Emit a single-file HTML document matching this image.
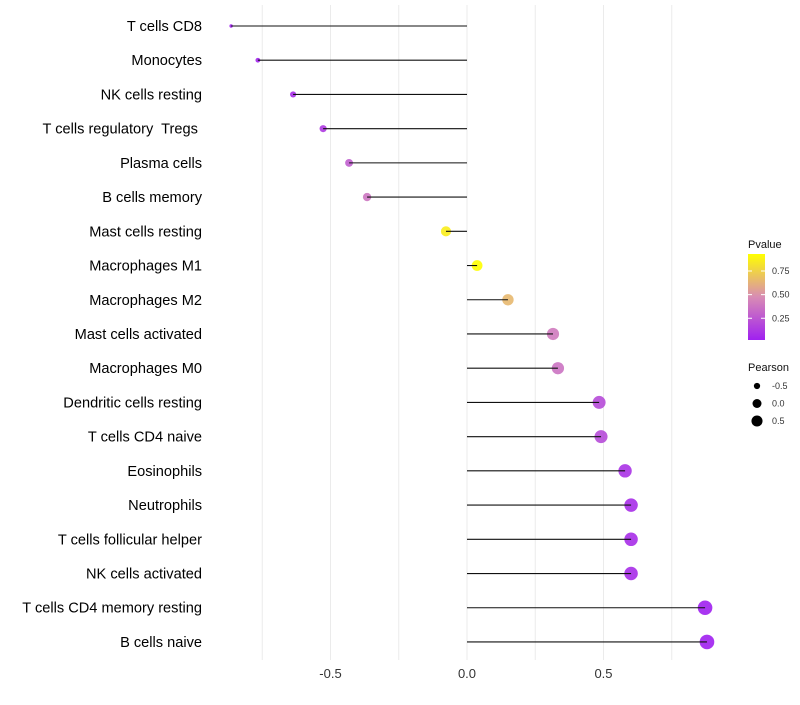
<!DOCTYPE html>
<html><head><meta charset="utf-8"><style>
body{margin:0;background:#fff;font-family:"Liberation Sans",sans-serif}
</style></head><body>
<svg id="chart" width="800" height="700" xmlns="http://www.w3.org/2000/svg" font-family="Liberation Sans, sans-serif"></svg>
<script>
const categories=["T cells CD8","Monocytes","NK cells resting","T cells regulatory  Tregs ","Plasma cells","B cells memory","Mast cells resting","Macrophages M1","Macrophages M2","Mast cells activated","Macrophages M0","Dendritic cells resting","T cells CD4 naive","Eosinophils","Neutrophils","T cells follicular helper","NK cells activated","T cells CD4 memory resting","B cells naive"];
const pearson=[-0.864,-0.766,-0.637,-0.527,-0.432,-0.366,-0.077,0.037,0.150,0.315,0.333,0.484,0.491,0.579,0.601,0.601,0.601,0.872,0.879];
const pvalues=[0.02,0.04,0.08,0.13,0.28,0.38,0.86,0.93,0.65,0.40,0.37,0.2,0.2,0.1,0.08,0.08,0.08,0.02,0.02];
const xTicks=[-0.5,0,0.5];
const xTickLabels=["-0.5","0.0","0.5"];
const legendP=[0.25,0.5,0.75];
const legendR=[-0.5,0,0.5];

const NS="http://www.w3.org/2000/svg";
const svg=document.getElementById('chart');
function mk(t,a,p){const e=document.createElementNS(NS,t);for(const k in a)e.setAttribute(k,a[k]);(p||svg).appendChild(e);return e;}
const xS=v=>467+v*273;
const yS=i=>26+i*34.22;
const rS=v=>Math.sqrt(Math.max(1,28+29*v));
function lerp(a,b,t){return a.map((x,i)=>Math.round(x+(b[i]-x)*t));}
function col(p){const t=Math.min(1,Math.max(0,(p-0.02)/0.91));const A=[160,32,240],M=[216,140,180],B=[255,255,0];const c=t<0.5?lerp(A,M,t*2):lerp(M,B,(t-0.5)*2);return `rgb(${c})`;}

[-0.75,-0.5,-0.25,0,0.25,0.5,0.75].forEach(v=>{
 const g=mk('line',{x1:xS(v),x2:xS(v),y1:5,y2:660,stroke:'#ebebeb','stroke-width':1});
 
 
});
categories.forEach((c,i)=>{
 const y=yS(i);
 const t=mk('text',{x:202,y:y+5,'text-anchor':'end','font-size':14.6,fill:'#000'});
 t.setAttributeNS('http://www.w3.org/XML/1998/namespace','xml:space','preserve');
 t.style.whiteSpace='pre';
 t.textContent=c;
 
 
 const d=mk('circle',{cx:xS(pearson[i]),cy:y,r:rS(pearson[i]),fill:col(pvalues[i]),'fill-opacity':0.9});
 
 
 const l=mk('line',{x1:xS(0),x2:xS(pearson[i]),y1:y,y2:y,stroke:'#111','stroke-width':1.1});
 
 
});
xTicks.forEach((v,i)=>{
 const t=mk('text',{x:xS(v),y:678,'text-anchor':'middle','font-size':13,fill:'#333'});
 t.textContent=xTickLabels[i];
 
 
});
const lt=mk('text',{x:748,y:248,'font-size':11,fill:'#111'});lt.textContent='Pvalue';


const defs=mk('defs',{});
const gr=mk('linearGradient',{id:'pg',x1:0,y1:1,x2:0,y2:0},defs);
for(let k=0;k<=10;k++){mk('stop',{offset:k/10,'stop-color':col(0.02+0.91*k/10)},gr);}
const cb=mk('rect',{x:748,y:254,width:17,height:86,fill:'url(#pg)'});


const pY=p=>340-(p-0.02)/0.91*86;
legendP.forEach(p=>{
 mk('line',{x1:748,x2:752,y1:pY(p),y2:pY(p),stroke:'#fff'});mk('line',{x1:761,x2:765,y1:pY(p),y2:pY(p),stroke:'#fff'});
 const t=mk('text',{x:772,y:pY(p)+3,'font-size':9,fill:'#333'});t.textContent=p.toFixed(2);
 
 
});
const st=mk('text',{x:748,y:371,'font-size':11,fill:'#111'});st.textContent='Pearson';


legendR.forEach((v,i)=>{
 const y=386+i*17.5;
 const c=mk('circle',{cx:757,cy:y,r:rS(v)*0.85,fill:'#000'});
 
 
 const t=mk('text',{x:772,y:y+3,'font-size':9,fill:'#333'});t.textContent=xTickLabels[i];
 
 
});
</script>
</body></html>
